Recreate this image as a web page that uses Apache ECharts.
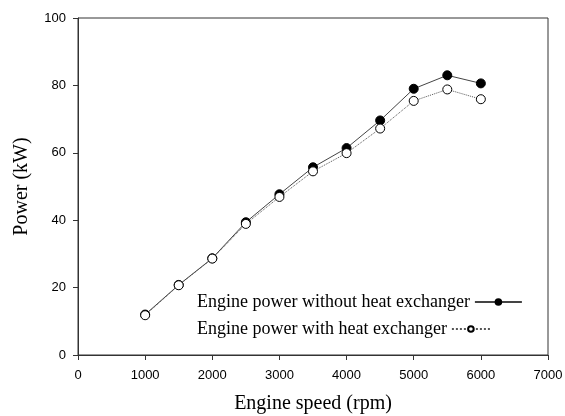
<!DOCTYPE html>
<html><head><meta charset="utf-8">
<script src="https://cdn.jsdelivr.net/npm/echarts@6/dist/echarts.min.js"></script>
<style>html,body{margin:0;padding:0;background:#fff}#c{width:565px;height:416px}</style>
</head><body><div id="c"></div>
<script>
const speeds = [1000,1500,2000,2500,3000,3500,4000,4500,5000,5500,6000];
const powerWithout = [12,20.8,28.7,39.4,47.7,55.7,61.4,69.6,79.0,83.0,80.6];
const powerWith = [11.8,20.7,28.6,38.9,46.9,54.5,59.9,67.2,75.4,78.8,75.9];
const xTicks = [0,1000,2000,3000,4000,5000,6000,7000];
const yTicks = [0,20,40,60,80,100];
const seriesNames = ['Engine power without heat exchanger','Engine power with heat exchanger'];

const chart = echarts.init(document.getElementById('c'));
const serif = 'Liberation Serif, Times New Roman, serif';
const sans = 'Liberation Sans, Arial, sans-serif';
const axisCommon = {
  axisLine:{show:true,lineStyle:{color:'#333',width:1}},
  axisTick:{show:true,inside:false,length:5,lineStyle:{color:'#333'}},
  splitLine:{show:false}
};
chart.setOption({
  animation:false,
  backgroundColor:'#fff',
  grid:{left:78,right:17,top:18,bottom:61,show:true,borderColor:'#333',borderWidth:1,
        containLabel:false,outerBoundsMode:'none'},
  xAxis:Object.assign({type:'value',min:xTicks[0],max:xTicks[xTicks.length-1],interval:1000,
    name:'Engine speed (rpm)',nameLocation:'middle',nameGap:39,
    nameTextStyle:{fontFamily:serif,fontSize:20,color:'#000'},
    axisLabel:{color:'#000',fontFamily:sans,fontSize:13,margin:14,formatter:v=>String(v)}},axisCommon),
  yAxis:Object.assign({type:'value',min:yTicks[0],max:yTicks[yTicks.length-1],interval:20,
    name:'Power (kW)',nameLocation:'middle',nameGap:46,
    nameTextStyle:{fontFamily:serif,fontSize:20,color:'#000'},
    axisLabel:{color:'#000',fontFamily:sans,fontSize:13,margin:12}},axisCommon),
  legend:[
    {left:192,top:288,orient:'vertical',align:'right',itemWidth:47,itemHeight:7,
     textStyle:{fontFamily:serif,fontSize:18,color:'#000'},
     data:[seriesNames[0]]},
    {left:192,top:315,orient:'vertical',align:'right',itemWidth:38,itemHeight:7,
     textStyle:{fontFamily:serif,fontSize:18,color:'#000'},
     data:[seriesNames[1]]}
  ],
  series:[
    {name:seriesNames[0],type:'line',
     data:speeds.map((s,i)=>[s,powerWithout[i]]),
     symbol:'circle',symbolSize:9,
     itemStyle:{color:'#000',borderColor:'#000',borderWidth:1},
     lineStyle:{color:'#444',width:1,type:'solid'},z:2},
    {name:seriesNames[1],type:'line',
     data:speeds.map((s,i)=>[s,powerWith[i]]),
     symbol:'circle',symbolSize:9,
     itemStyle:{color:'#fff',borderColor:'#000',borderWidth:1},
     lineStyle:{color:'#555',width:1,type:'dotted'},z:3}
  ]
});
</script></body></html>
